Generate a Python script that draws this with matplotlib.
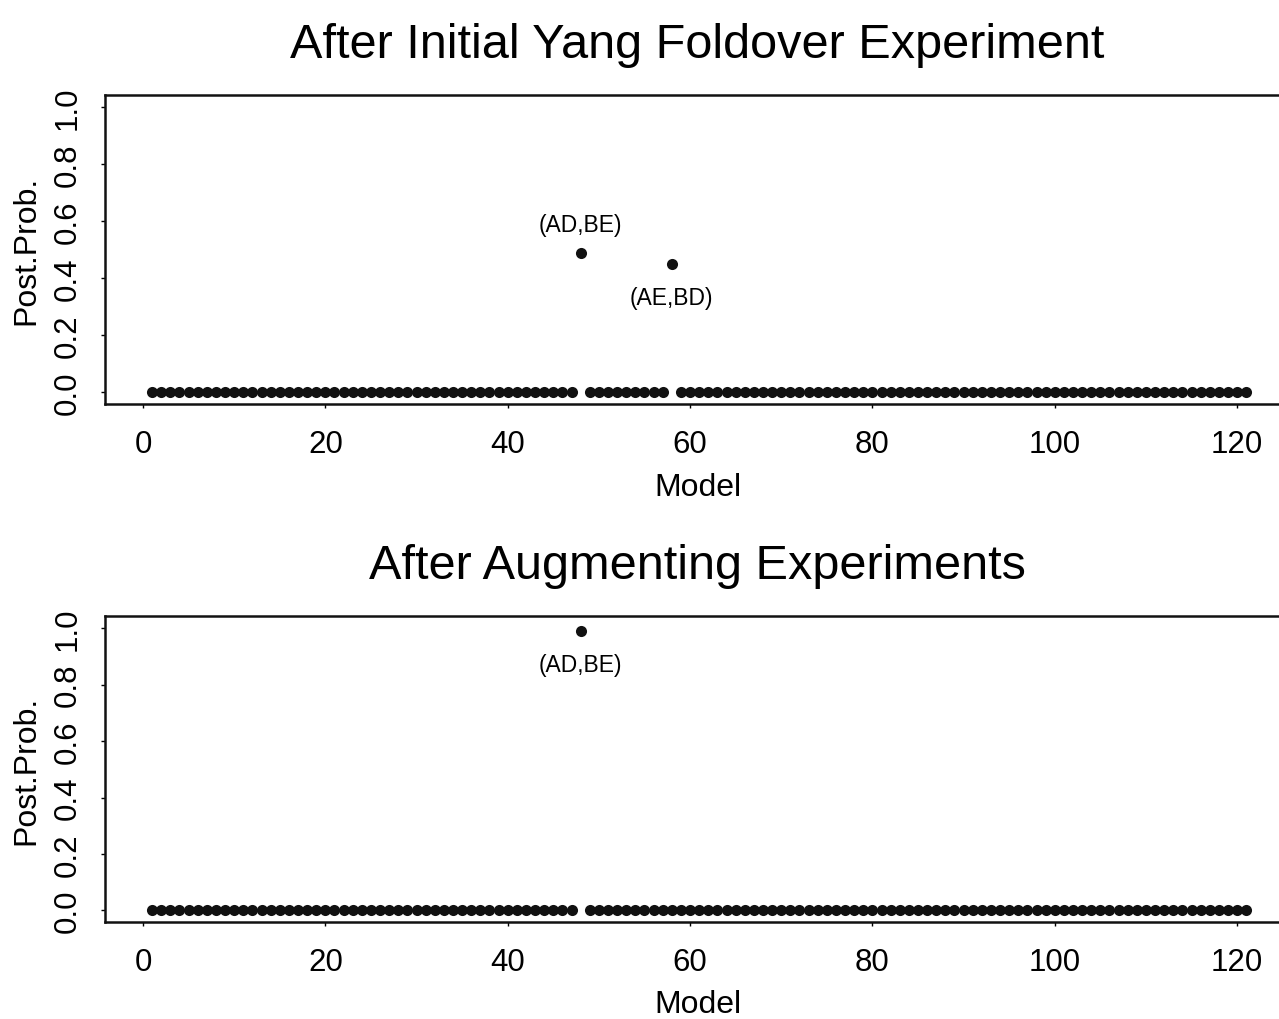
import matplotlib
matplotlib.use("Agg")
import matplotlib.pyplot as plt

plt.rcParams['font.family'] = ['Liberation Sans', 'DejaVu Sans']

models = list(range(1, 122))

# posterior probabilities after initial Yang foldover experiment
post_initial = [0.0] * 121
post_initial[48 - 1] = 0.49   # (AD,BE)
post_initial[58 - 1] = 0.45   # (AE,BD)

# posterior probabilities after augmenting experiments
post_augmented = [0.0] * 121
post_augmented[48 - 1] = 0.99  # (AD,BE)

titles = ["After Initial Yang Foldover Experiment", "After Augmenting Experiments"]
xticks = [0, 20, 40, 60, 80, 100, 120]
yticks = [0.0, 0.2, 0.4, 0.6, 0.8, 1.0]
ytick_labels = ["0.0", "0.2", "0.4", "0.6", "0.8", "1.0"]

annotations_initial = [(48, "(AD,BE)", 'above'), (58, "(AE,BD)", 'below')]
annotations_augmented = [(48, "(AD,BE)", 'below')]

fig = plt.figure(figsize=(12.79, 10.20), dpi=100)
ax1 = fig.add_axes([0.0821, 0.6029, 0.9265, 0.303])
ax2 = fig.add_axes([0.0821, 0.0951, 0.9265, 0.300])

for ax, vals, title, anns in [(ax1, post_initial, titles[0], annotations_initial),
                              (ax2, post_augmented, titles[1], annotations_augmented)]:
    ax.plot(models, vals, 'o', color='#111111', markersize=8.0, markeredgewidth=0)
    ax.set_xlim(-4.17, 125.8)
    ax.set_ylim(-0.041, 1.043)
    ax.set_xticks(xticks)
    ax.set_xticklabels([str(t) for t in xticks])
    ax.set_yticks(yticks)
    ax.set_yticklabels(ytick_labels, rotation=90, va='center')
    ax.tick_params(axis='both', direction='out', length=3, width=1.0, labelsize=22.5)
    ax.tick_params(axis='x', pad=15)
    ax.tick_params(axis='y', pad=13)
    for s in ax.spines.values():
        s.set_linewidth(1.8)
        s.set_color('#111111')
    ax.set_xlabel("Model", fontsize=23, labelpad=9)
    ax.set_ylabel("Post.Prob.", fontsize=23, labelpad=8)
    ax.set_title(title, fontsize=35, pad=27)
    for m, txt, pos in anns:
        y = vals[m - 1]
        if pos == 'above':
            ax.annotate(txt, (m, y), xytext=(0, 12), textcoords='offset points',
                        ha='center', va='bottom', fontsize=16.5)
        else:
            ax.annotate(txt, (m, y), xytext=(0, -16), textcoords='offset points',
                        ha='center', va='top', fontsize=16.5)

fig.savefig("out.png", dpi=100)
